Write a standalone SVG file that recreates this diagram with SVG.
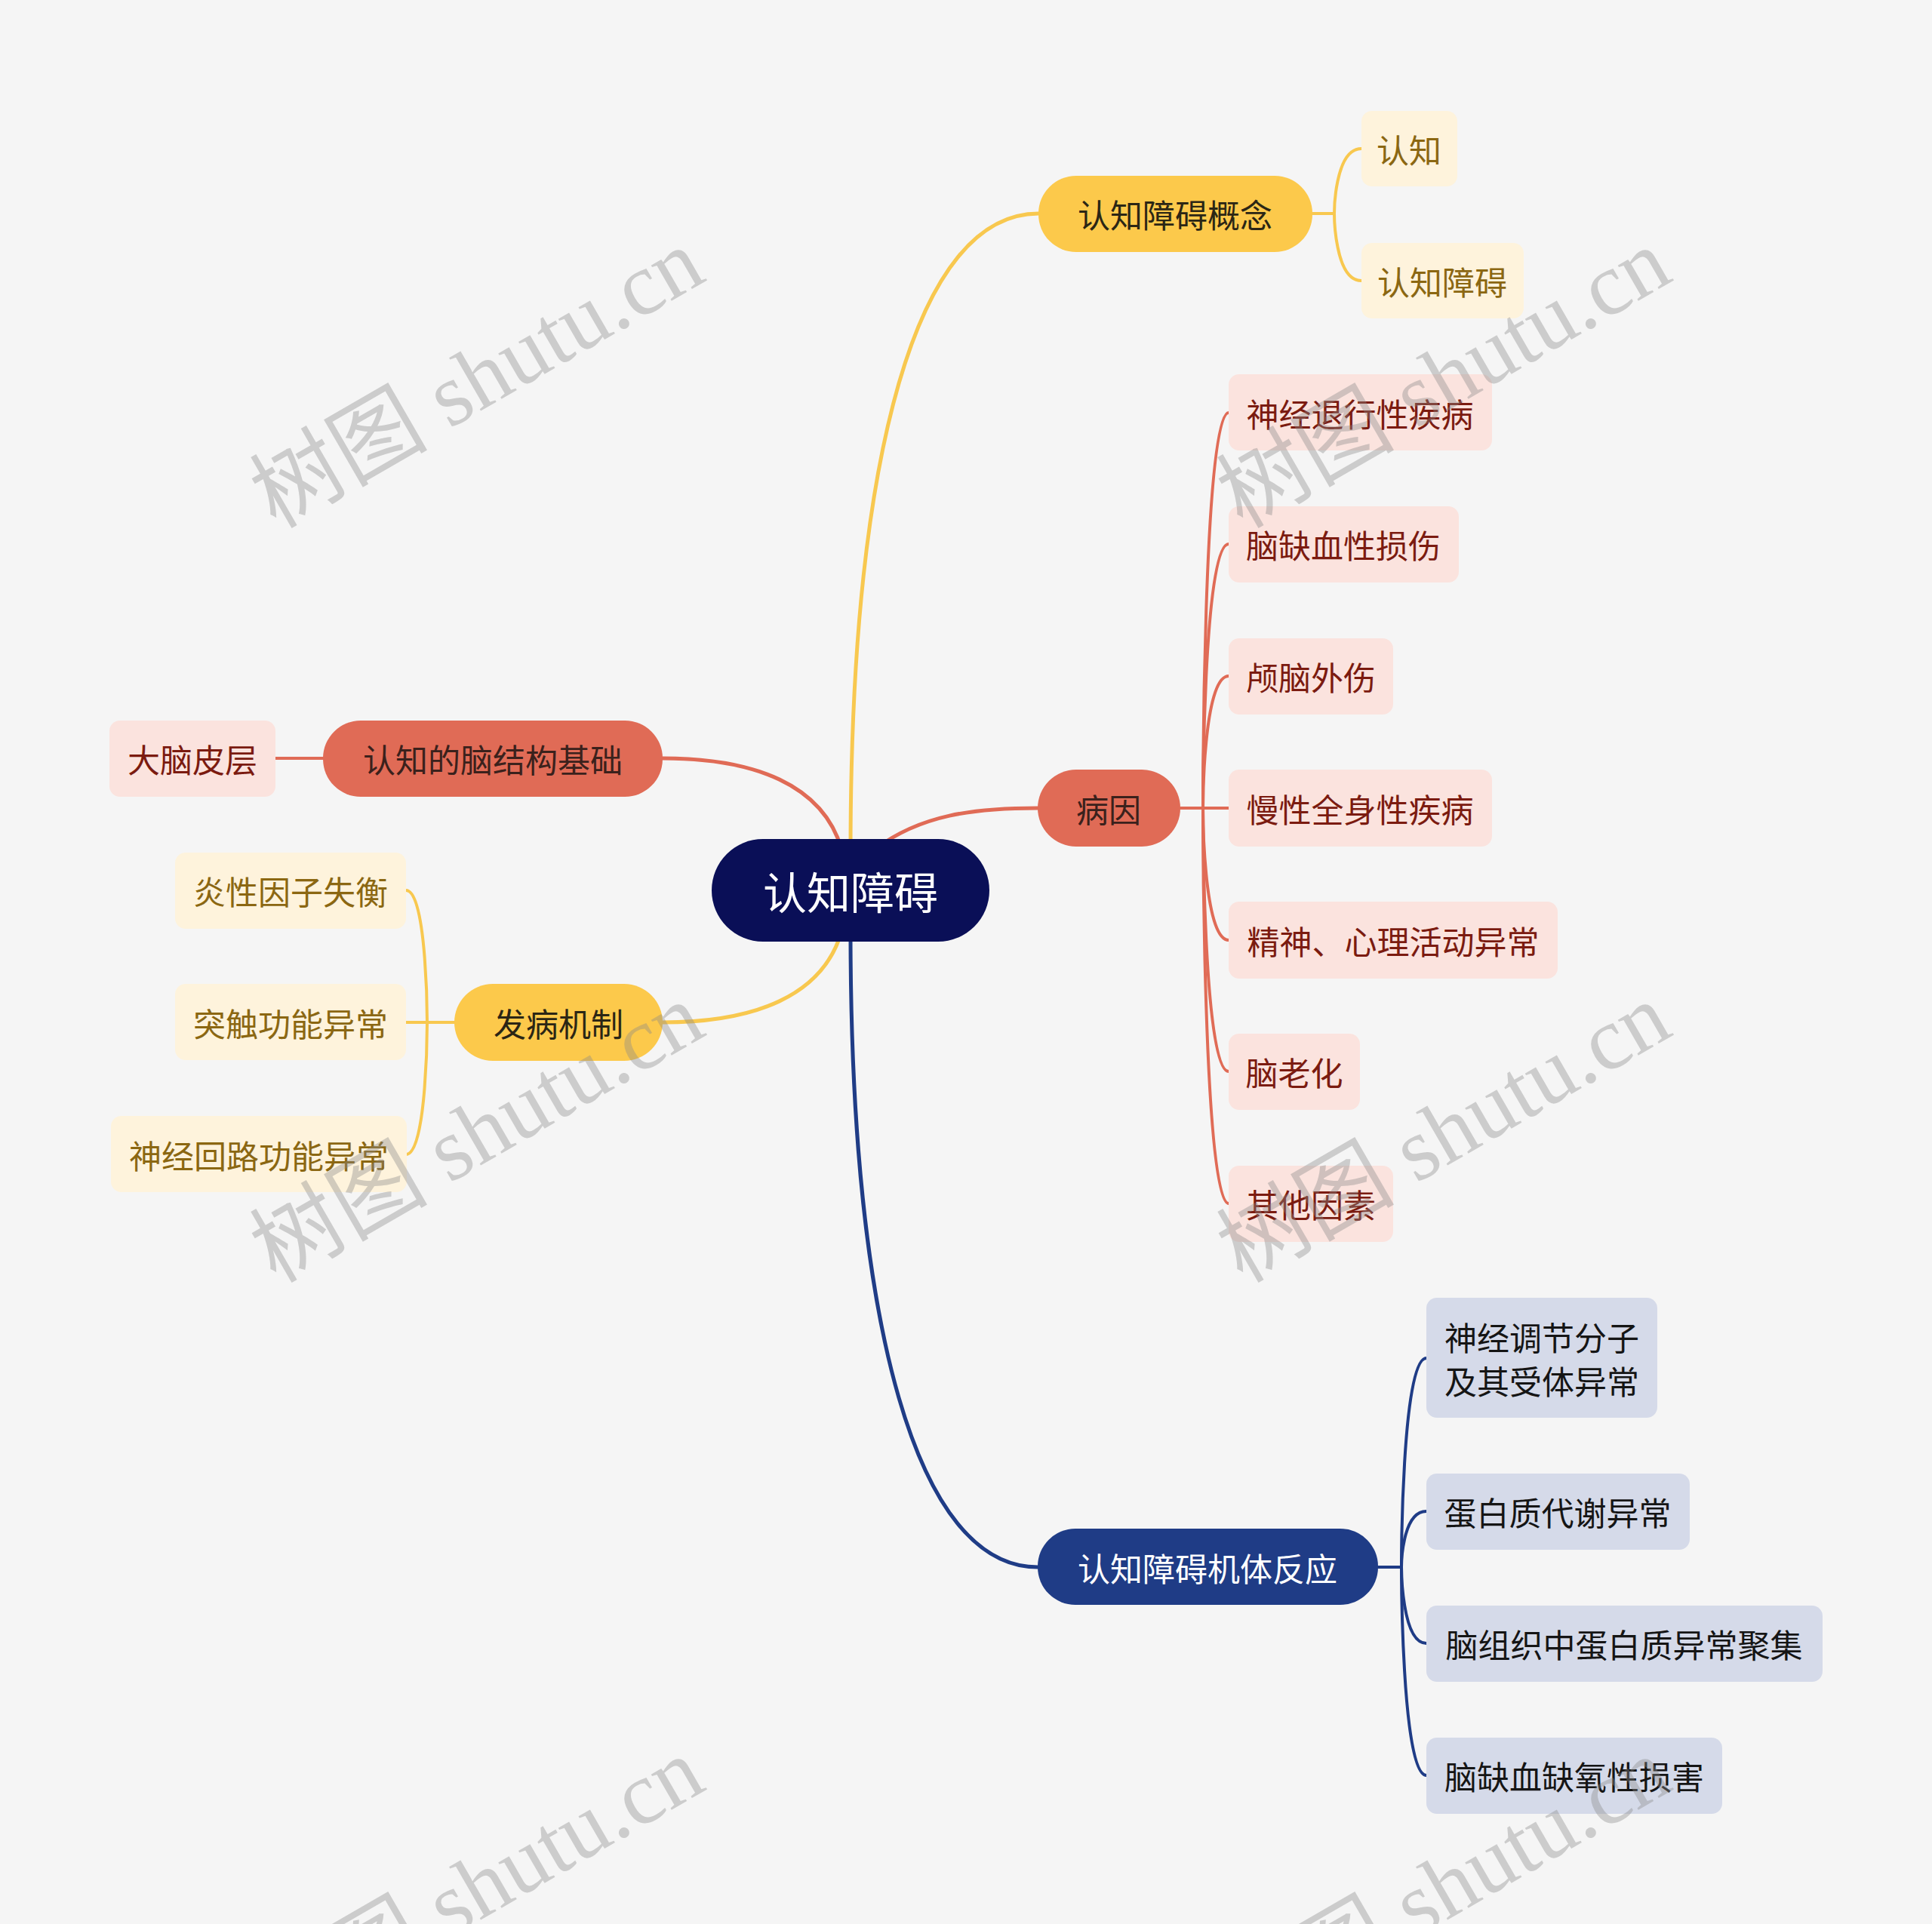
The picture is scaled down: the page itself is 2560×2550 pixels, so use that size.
<svg xmlns="http://www.w3.org/2000/svg" width="2560" height="2550" viewBox="0 0 2560 2550">
<style>
.t{font-family:"Noto Sans CJK SC","Noto Sans",sans-serif;font-size:43px;text-anchor:middle;dominant-baseline:central}
.root{fill:#0a0f57}
.rt{fill:#ffffff;font-size:58px}
.ny{fill:#fcc94b}.ty{fill:#2b2615}
.no{fill:#e06b56}.to{fill:#3b211c}
.nn{fill:#1f3c86}.tn{fill:#ffffff}
.ly{fill:#fef3dc}.tly{fill:#8b6712}
.lo{fill:#fbe3de}.tlo{fill:#7b1b10}
.ln{fill:#d5dae9}.tln{fill:#151515}
.cy{stroke:#f8c84f}.co{stroke:#e06b56}.cn{stroke:#1f3c86}
.m{stroke-width:5}.s{stroke-width:4}
.wm{font-family:"Liberation Serif","Noto Sans CJK SC",serif;font-size:118px;fill:#888888;fill-opacity:0.38;text-anchor:middle}
</style>
<rect width="2560" height="2550" fill="#f5f5f5"/>
<g id="connectors" fill="none" stroke-linecap="round">
<path class="cy m" d="M1127,1130 C1127,600 1215,283 1376,283"/>
<path class="co m" d="M1160,1125 C1220,1080 1290,1071 1375,1071"/>
<path class="co m" d="M878,1005 C1000,1005 1090,1040 1115,1125"/>
<path class="cy m" d="M878,1355 C1000,1355 1090,1320 1115,1235"/>
<path class="cn m" d="M1127,1235 C1127,1759 1215,2077 1375,2077"/>
<path class="cy s" d="M1739,283 H1768"/>
<path class="cy s" d="M1768,283 C1768,283 1768,197 1804,197"/>
<path class="cy s" d="M1768,283 C1768,283 1768,372 1804,372"/>
<path class="co s" d="M365,1005 H428"/>
<path class="cy s" d="M538,1355 H602"/>
<path class="cy s" d="M566,1355 C566,1355 566,1180 538,1180"/>
<path class="cy s" d="M566,1355 C566,1355 566,1530 538,1530"/>
<path class="co s" d="M1564,1071 H1628"/>
<path class="co s" d="M1594,1071 C1594,1071 1594,547 1628,547"/>
<path class="co s" d="M1594,1071 C1594,1071 1594,721 1628,721"/>
<path class="co s" d="M1594,1071 C1594,1071 1594,896 1628,896"/>
<path class="co s" d="M1594,1071 C1594,1071 1594,1246 1628,1246"/>
<path class="co s" d="M1594,1071 C1594,1071 1594,1420 1628,1420"/>
<path class="co s" d="M1594,1071 C1594,1071 1594,1595 1628,1595"/>
<path class="cn s" d="M1826,2077 H1857"/>
<path class="cn s" d="M1857,2077 C1857,2077 1857,1800 1890,1800"/>
<path class="cn s" d="M1857,2077 C1857,2077 1857,2003 1890,2003"/>
<path class="cn s" d="M1857,2077 C1857,2077 1857,2178 1890,2178"/>
<path class="cn s" d="M1857,2077 C1857,2077 1857,2353 1890,2353"/>
</g>
<g id="root"><rect class="root" x="943" y="1112" width="368" height="136" rx="68"/><text class="t rt" x="1127" y="1180">认知障碍</text></g>
<g id="n-gainian"><rect class="ny" x="1376" y="233" width="363" height="101" rx="50"/><text class="t ty" x="1557" y="283">认知障碍概念</text></g>
<g id="n-renzhi"><rect class="ly" x="1804" y="147" width="127" height="100" rx="14"/><text class="t tly" x="1867" y="197">认知</text></g>
<g id="n-renzhizhangai"><rect class="ly" x="1804" y="322" width="215" height="100" rx="14"/><text class="t tly" x="1911" y="372">认知障碍</text></g>
<g id="n-bingyin"><rect class="no" x="1375" y="1020" width="189" height="102" rx="51"/><text class="t to" x="1469" y="1071">病因</text></g>
<g id="n-c1"><rect class="lo" x="1628" y="496" width="349" height="101" rx="14"/><text class="t tlo" x="1802" y="547">神经退行性疾病</text></g>
<g id="n-c2"><rect class="lo" x="1628" y="671" width="305" height="101" rx="14"/><text class="t tlo" x="1780" y="721">脑缺血性损伤</text></g>
<g id="n-c3"><rect class="lo" x="1628" y="846" width="218" height="101" rx="14"/><text class="t tlo" x="1737" y="896">颅脑外伤</text></g>
<g id="n-c4"><rect class="lo" x="1628" y="1020" width="349" height="102" rx="14"/><text class="t tlo" x="1802" y="1071">慢性全身性疾病</text></g>
<g id="n-c5"><rect class="lo" x="1628" y="1195" width="436" height="102" rx="14"/><text class="t tlo" x="1846" y="1246">精神、心理活动异常</text></g>
<g id="n-c6"><rect class="lo" x="1628" y="1370" width="174" height="101" rx="14"/><text class="t tlo" x="1715" y="1420">脑老化</text></g>
<g id="n-c7"><rect class="lo" x="1628" y="1545" width="218" height="101" rx="14"/><text class="t tlo" x="1737" y="1595">其他因素</text></g>
<g id="n-jiegou"><rect class="no" x="428" y="955" width="450" height="101" rx="50"/><text class="t to" x="653" y="1005">认知的脑结构基础</text></g>
<g id="n-danao"><rect class="lo" x="145" y="955" width="220" height="101" rx="14"/><text class="t tlo" x="255" y="1005">大脑皮层</text></g>
<g id="n-jizhi"><rect class="ny" x="602" y="1304" width="276" height="102" rx="51"/><text class="t ty" x="740" y="1355">发病机制</text></g>
<g id="n-m1"><rect class="ly" x="232" y="1130" width="306" height="101" rx="14"/><text class="t tly" x="385" y="1180">炎性因子失衡</text></g>
<g id="n-m2"><rect class="ly" x="232" y="1304" width="306" height="101" rx="14"/><text class="t tly" x="385" y="1355">突触功能异常</text></g>
<g id="n-m3"><rect class="ly" x="147" y="1479" width="392" height="101" rx="14"/><text class="t tly" x="343" y="1530">神经回路功能异常</text></g>
<g id="n-fanying"><rect class="nn" x="1375" y="2026" width="451" height="101" rx="50"/><text class="t tn" x="1600" y="2077">认知障碍机体反应</text></g>
<g id="n-r1"><rect class="ln" x="1890" y="1720" width="306" height="159" rx="14"/><text class="t tln" x="2043"><tspan x="2043" y="1771">神经调节分子</tspan><tspan x="2043" y="1829">及其受体异常</tspan></text></g>
<g id="n-r2"><rect class="ln" x="1890" y="1953" width="349" height="101" rx="14"/><text class="t tln" x="2064" y="2003">蛋白质代谢异常</text></g>
<g id="n-r3"><rect class="ln" x="1890" y="2128" width="525" height="101" rx="14"/><text class="t tln" x="2152" y="2178">脑组织中蛋白质异常聚集</text></g>
<g id="n-r4"><rect class="ln" x="1890" y="2303" width="392" height="101" rx="14"/><text class="t tln" x="2086" y="2353">脑缺血缺氧性损害</text></g>
<g id="watermarks">
<text class="wm" transform="translate(652,536) rotate(-30)">树图 shutu.cn</text>
<text class="wm" transform="translate(1933,536) rotate(-30)">树图 shutu.cn</text>
<text class="wm" transform="translate(652,1536) rotate(-30)">树图 shutu.cn</text>
<text class="wm" transform="translate(1933,1536) rotate(-30)">树图 shutu.cn</text>
<text class="wm" transform="translate(652,2536) rotate(-30)">树图 shutu.cn</text>
<text class="wm" transform="translate(1933,2536) rotate(-30)">树图 shutu.cn</text>
</g>
</svg>
